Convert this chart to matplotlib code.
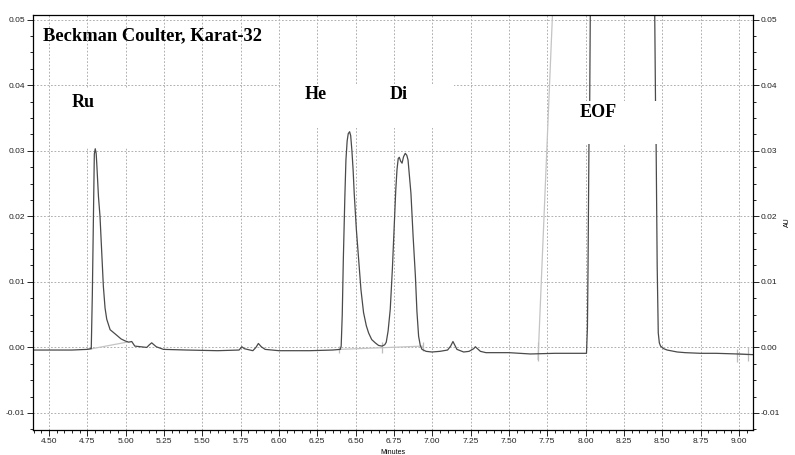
import matplotlib
matplotlib.use("Agg")
import matplotlib.pyplot as plt
from matplotlib.patches import Rectangle
from matplotlib.ticker import MultipleLocator, FormatStrFormatter

# detector trace (minutes, AU)
t_main = [4.396, 4.50, 4.65, 4.75, 4.772, 4.776, 4.783, 4.790, 4.796, 4.802, 4.808,
          4.812, 4.823, 4.833, 4.845, 4.855, 4.866, 4.877, 4.899, 4.92, 4.94, 4.97,
          4.996, 5.02, 5.04, 5.06, 5.10, 5.138, 5.155, 5.17, 5.185, 5.20, 5.247,
          5.40, 5.60, 5.74, 5.758, 5.775, 5.83, 5.85, 5.866, 5.885, 5.91, 6.0, 6.2,
          6.35, 6.40, 6.406, 6.413, 6.42, 6.43, 6.437, 6.445, 6.452, 6.461, 6.468,
          6.476, 6.484, 6.491, 6.505, 6.52, 6.535, 6.552, 6.57, 6.585, 6.605, 6.628,
          6.65, 6.672, 6.69, 6.70, 6.712, 6.726, 6.74, 6.752, 6.762, 6.77, 6.778,
          6.785, 6.794, 6.803, 6.813, 6.824, 6.834, 6.842, 6.852, 6.861, 6.875,
          6.89, 6.90, 6.911, 6.922, 6.933, 6.96, 6.998, 7.05, 7.10, 7.12, 7.135,
          7.148, 7.161, 7.205, 7.24, 7.27, 7.281, 7.295, 7.314, 7.35, 7.5, 7.64,
          7.8, 7.95, 8.006, 8.012, 8.016, 8.022, 8.027, 8.031, 8.036, 8.445, 8.451,
          8.456, 8.460, 8.467, 8.474, 8.481, 8.489, 8.51, 8.532, 8.598, 8.65, 8.75,
          8.85, 8.99, 9.09]
au_main = [-0.0004, -0.0004, -0.0004, -0.0003, -0.0002, -0.0002, 0.008, 0.0195,
           0.0295, 0.0303, 0.0296, 0.028, 0.023, 0.020, 0.014, 0.0093, 0.006, 0.0043,
           0.0027, 0.0023, 0.0019, 0.0013, 0.0010, 0.0008, 0.0009, 0.0002, 0.0001,
           0.0, 0.0004, 0.0007, 0.0004, 0.0001, -0.0003, -0.0004, -0.0005, -0.0004,
           0.0001, -0.0002, -0.0005, 0.0, 0.0006, 0.0001, -0.0003, -0.0005, -0.0005,
           -0.0004, -0.0003, 0.0002, 0.005, 0.0134, 0.023, 0.0286, 0.0315, 0.0326,
           0.0329, 0.0323, 0.030, 0.027, 0.0235, 0.018, 0.0134, 0.0088, 0.0053,
           0.0033, 0.0022, 0.0012, 0.0007, 0.0003, 0.0002, 0.0004, 0.0008, 0.0025,
           0.0058, 0.012, 0.0185, 0.024, 0.0271, 0.0288, 0.0290, 0.0284, 0.0281,
           0.0291, 0.0296, 0.0293, 0.0286, 0.026, 0.0235, 0.017, 0.0109, 0.0055,
           0.0017, 0.0003, -0.0003, -0.0006, -0.0007, -0.0006, -0.0004, 0.0002,
           0.0009, 0.0003, -0.0003, -0.0007, -0.0006, -0.0002, 0.0001, -0.0002,
           -0.0006, -0.0008, -0.0008, -0.0010, -0.0009, -0.0009, -0.0009, 0.003,
           0.0124, 0.0309, 0.0377, 0.0517, 0.075, 0.075, 0.0507, 0.0377, 0.031,
           0.0124, 0.0022, 0.0007, 0.0002, -0.0002, -0.0004, -0.0007, -0.0008,
           -0.0009, -0.0009, -0.0010, -0.0011]

# integration baselines (light trace)
base_t = [[4.757, 5.008], [6.395, 6.94], [7.69, 7.784, 7.79], [8.99, 9.06]]
base_au = [[-0.0003, 0.0008], [-0.0003, 0.0002], [-0.0018, 0.0507, 0.055], [-0.0010, -0.0011]]

# integration markers: time, low, high
mark_t = [6.395, 6.67, 6.94, 7.69, 8.99, 9.06]
mark_lo = [-0.0008, -0.0008, -0.0006, -0.0021, -0.0023, -0.0021]
mark_hi = [0.0002, 0.0008, 0.0008, 0.0008, -0.0003, 0.0000]

peak_names = ["Ru", "He", "Di", "EOF"]
peak_t = [4.722, 6.243, 6.78, 8.084]
peak_au = [0.0373, 0.0386, 0.0386, 0.0359]

fig = plt.figure(figsize=(7.95, 4.55), dpi=100)
ax = fig.add_axes([0.0415, 0.0549, 0.9053, 0.9121])

ax.set_xlim(4.396, 9.09)
ax.set_ylim(-0.0126, 0.0507)

ax.plot(t_main, au_main, color="#4a4a4a", lw=0.9, zorder=2.2)
for bt, ba in zip(base_t, base_au):
    ax.plot(bt, ba, color="#c4c4c4", lw=0.9, zorder=2.1)
ax.vlines(mark_t, mark_lo, mark_hi, color="#bdbdbd", lw=0.9, zorder=2.1)

# white label boxes pasted over the grid (EOF one also over the trace)
ax.add_patch(Rectangle((4.58, 0.0306), 0.48, 0.0089, fc="white", ec="none", zorder=1.8))
ax.add_patch(Rectangle((6.01, 0.0335), 1.13, 0.0067, fc="white", ec="none", zorder=1.8))
ax.add_patch(Rectangle((7.78, 0.0310), 0.70, 0.0066, fc="white", ec="none", zorder=2.5))

serif = dict(family="Liberation Serif", weight="bold", zorder=3)
for name, x, y in zip(peak_names, peak_t, peak_au):
    ax.text(x, y, name, ha="center", va="center", fontsize=13, **serif)
ax.text(4.461, 0.0476, "Beckman Coulter, Karat-32", ha="left", va="center",
        fontsize=13.3, **serif)

ax.xaxis.set_major_locator(MultipleLocator(0.25))
ax.xaxis.set_minor_locator(MultipleLocator(0.05))
ax.yaxis.set_major_locator(MultipleLocator(0.01))
ax.yaxis.set_minor_locator(MultipleLocator(0.0025))
ax.xaxis.set_major_formatter(FormatStrFormatter("%.2f"))
ax.yaxis.set_major_formatter(FormatStrFormatter("%.2f"))

ax.tick_params(which="both", direction="out", right=True, labelright=True, top=False,
               labelsize=6, width=0.6, pad=1.5, labelcolor="#222222")
ax.tick_params(which="major", length=4)
ax.tick_params(which="minor", length=2)
for lab in ax.get_xticklabels() + ax.get_yticklabels():
    lab.set_family("Liberation Sans")

ax.grid(True, which="major", color="#b0b0b0", linestyle=(0, (1.8, 1.8)), linewidth=0.7)
for sp in ax.spines.values():
    sp.set_linewidth(0.9)
    sp.set_color("black")

ax.set_xlabel("Minutes", fontsize=5, family="Liberation Sans", labelpad=3)
ax.yaxis.set_label_position("right")
ax.set_ylabel("AU", fontsize=5, family="Liberation Sans", labelpad=3)

fig.savefig("out.png", dpi=100)
